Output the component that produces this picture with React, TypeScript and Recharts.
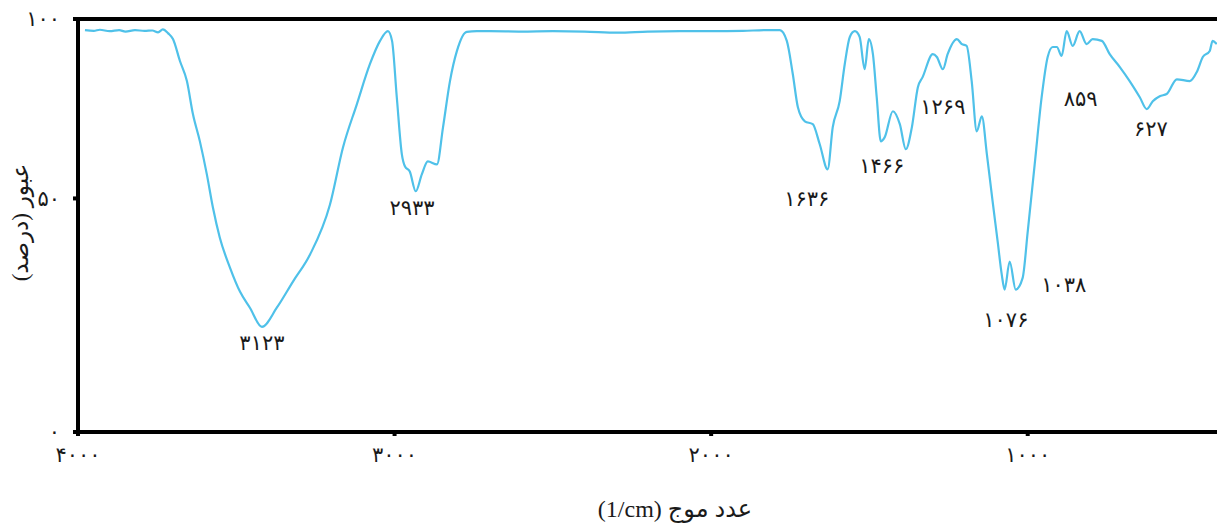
import React from 'react';
import { Label, Line, LineChart, ReferenceDot, ReferenceLine, XAxis, YAxis } from 'recharts';

// wavenumber (1/cm) from left to right
const wavenumbers = [
  3978, 3950, 3931, 3900, 3870, 3850, 3820, 3790, 3765, 3747, 3732, 3715, 3700, 3678, 3656, 3637,
  3615, 3593, 3574, 3552, 3520, 3488, 3457, 3419, 3372, 3321, 3267, 3204, 3163, 3119, 3078, 3046,
  3021, 3008, 2993, 2977, 2967, 2952, 2933, 2914, 2895, 2866, 2847, 2825, 2803, 2772, 2740, 2699,
  2600, 2500, 2400, 2295, 2200, 2100, 2000, 1900, 1820, 1783, 1761, 1742, 1726, 1704, 1679, 1657,
  1632, 1616, 1594, 1578, 1562, 1546, 1531, 1515, 1502, 1489, 1477, 1464, 1452, 1426, 1404, 1385,
  1366, 1347, 1332, 1300, 1287, 1268, 1253, 1224, 1208, 1193, 1177, 1161, 1145, 1129, 1111, 1095,
  1082, 1073, 1057, 1038, 1016, 1000, 978, 956, 937, 921, 908, 893, 877, 858, 836, 814, 795, 766,
  741, 709, 678, 646, 624, 605, 583, 561, 529, 488, 466, 447, 425, 416, 403,
];

// transmittance (%)
const transmittance = [
  96.9, 96.7, 97.0, 96.6, 96.9, 96.5, 96.9, 96.7, 96.8, 96.3, 97.1, 96.0, 94.4, 88.3, 82.7, 73.5,
  65.9, 56.7, 48.1, 41.6, 35.2, 30.0, 26.6, 22.5, 26.6, 32.2, 38.0, 48.7, 64.2, 76.3, 87.4, 93.9,
  96.6, 93.9, 78.2, 62.3, 58.9, 57.5, 52.0, 56.7, 60.3, 59.5, 69.8, 82.7, 91.1, 96.4, 96.6, 96.6,
  96.5, 96.6, 96.5, 96.2, 96.5, 96.6, 96.6, 96.7, 96.9, 96.9, 93.9, 84.6, 75.4, 71.5, 70.7, 65.1,
  58.1, 69.8, 77.1, 87.4, 95.0, 96.6, 95.0, 86.0, 94.4, 90.2, 78.2, 65.9, 67.0, 74.3, 70.7, 63.7,
  69.8, 81.0, 83.8, 90.2, 89.4, 86.0, 90.2, 94.4, 93.0, 92.5, 82.7, 68.7, 72.9, 62.3, 49.4, 40.8,
  33.7, 30.5, 36.5, 30.5, 33.0, 42.9, 59.5, 78.2, 89.4, 92.2, 92.2, 89.7, 96.6, 92.5, 96.6, 93.0,
  94.4, 93.9, 90.2, 86.6, 82.7, 78.2, 74.9, 77.1, 78.5, 79.1, 83.2, 82.7, 85.2, 89.4, 91.1, 93.9,
  93.0,
];

const xTicks = [4000, 3000, 2000, 1000];
const yTicks = [0, 50, 100];

// peak annotations: label text and where it sits (data coordinates)
const peakLabels = [
  { text: '۳۱۲۳', wn: 3419, t: 19.1 },
  { text: '۲۹۳۳', wn: 2945, t: 48.1 },
  { text: '۱۶۳۶', wn: 1698, t: 50.0 },
  { text: '۱۴۶۶', wn: 1461, t: 59.2 },
  { text: '۱۲۶۹', wn: 1268, t: 75.7 },
  { text: '۱۰۷۶', wn: 1069, t: 24.0 },
  { text: '۱۰۳۸', wn: 886, t: 31.5 },
  { text: '۸۵۹', wn: 833, t: 77.9 },
  { text: '۶۲۷', wn: 611, t: 69.6 },
];

const data = wavenumbers.map((wn, i) => ({ wn, t: transmittance[i] }));

const FONT = "'Liberation Serif', 'DejaVu Sans', serif";
const LINE_COLOR = '#4fc1e9';

const toPersian = (v: number | string) =>
  String(v).replace(/\d/g, (d) => '۰۱۲۳۴۵۶۷۸۹'[Number(d)]);

// the printed y axis is not linear: 0-50 takes more height than 50-100
const LOWER_HALF_SHARE = 233 / 412;

function transmittanceScale(): any {
  let dom = [0, 100];
  let rng = [0, 1];
  const warp = (f: number) =>
    f <= 0.5 ? f * 2 * LOWER_HALF_SHARE : LOWER_HALF_SHARE + (f - 0.5) * 2 * (1 - LOWER_HALF_SHARE);
  const unwarp = (f: number) =>
    f <= LOWER_HALF_SHARE
      ? f / (2 * LOWER_HALF_SHARE)
      : 0.5 + (f - LOWER_HALF_SHARE) / (2 * (1 - LOWER_HALF_SHARE));

  const scale: any = (v: number) =>
    rng[0] + warp((v - dom[0]) / (dom[1] - dom[0])) * (rng[1] - rng[0]);
  scale.domain = (...args: any[]) => {
    if (!args.length) return dom.slice();
    dom = args[0].map(Number);
    return scale;
  };
  scale.range = (...args: any[]) => {
    if (!args.length) return rng.slice();
    rng = args[0].map(Number);
    return scale;
  };
  scale.copy = () => transmittanceScale().domain(dom).range(rng);
  scale.invert = (p: number) =>
    dom[0] + unwarp((p - rng[0]) / (rng[1] - rng[0])) * (dom[1] - dom[0]);
  scale.ticks = () => yTicks.slice();
  scale.tickFormat = () => (v: number) => String(v);
  scale.nice = () => scale;
  return scale;
}

const tickStyle = { fontFamily: FONT, fontSize: 21, fill: '#1a1a1a' };
const peakStyle = { fontFamily: FONT, fontSize: 21, fill: '#1a1a1a' };

export default function App() {
  return (
    <div
      style={{
        position: 'absolute',
        left: 0,
        top: 0,
        width: 1217,
        height: 524,
        overflow: 'hidden',
        background: '#fff',
      }}
    >
      <LineChart width={1240} height={524} data={data} margin={{ top: 19, right: 16, bottom: 0, left: 0 }}>
        <XAxis
          dataKey='wn'
          type='number'
          domain={[380, 4000]}
          reversed
          allowDataOverflow
          ticks={xTicks}
          interval={0}
          tickFormatter={toPersian}
          tick={tickStyle}
          tickSize={4}
          tickMargin={11}
          tickLine={{ stroke: '#000', strokeWidth: 4 }}
          axisLine={{ stroke: '#000', strokeWidth: 4 }}
          height={92}
        >
          <Label
            content={({ viewBox }: any) => (
              <text
                x={675}
                y={viewBox.y + 77}
                textAnchor='middle'
                dominantBaseline='central'
                direction='rtl'
                style={{ fontFamily: FONT, fontSize: 24, fill: '#1a1a1a' }}
              >
                {'عدد موج (\u200E1/cm)'}
              </text>
            )}
          />
        </XAxis>
        <YAxis
          type='number'
          domain={[0, 100]}
          scale={transmittanceScale()}
          allowDataOverflow
          ticks={yTicks}
          interval={0}
          tickFormatter={toPersian}
          tick={tickStyle}
          tickSize={5}
          tickMargin={13}
          tickLine={{ stroke: '#000', strokeWidth: 4 }}
          axisLine={{ stroke: '#000', strokeWidth: 4 }}
          width={78}
        >
          <Label
            content={({ viewBox }: any) => {
              const cx = 20;
              const cy = viewBox.y + viewBox.height / 2 - 3;
              return (
                <text
                  x={cx}
                  y={cy}
                  textAnchor='middle'
                  dominantBaseline='central'
                  direction='rtl'
                  transform={`rotate(-90, ${cx}, ${cy})`}
                  style={{ fontFamily: FONT, fontSize: 23, fill: '#1a1a1a' }}
                >
                  عبور (درصد)
                </text>
              );
            }}
          />
        </YAxis>

        <ReferenceLine y={100} stroke='#000' strokeWidth={4} ifOverflow='visible' />

        <Line
          dataKey='t'
          type='monotoneX'
          stroke={LINE_COLOR}
          strokeWidth={2.2}
          dot={false}
          isAnimationActive={false}
        />

        {peakLabels.map((p) => (
          <ReferenceDot
            key={p.text}
            x={p.wn}
            y={p.t}
            r={0}
            fill='none'
            stroke='none'
            ifOverflow='visible'
            label={{ value: p.text, position: 'center', style: peakStyle }}
          />
        ))}
      </LineChart>
    </div>
  );
}
